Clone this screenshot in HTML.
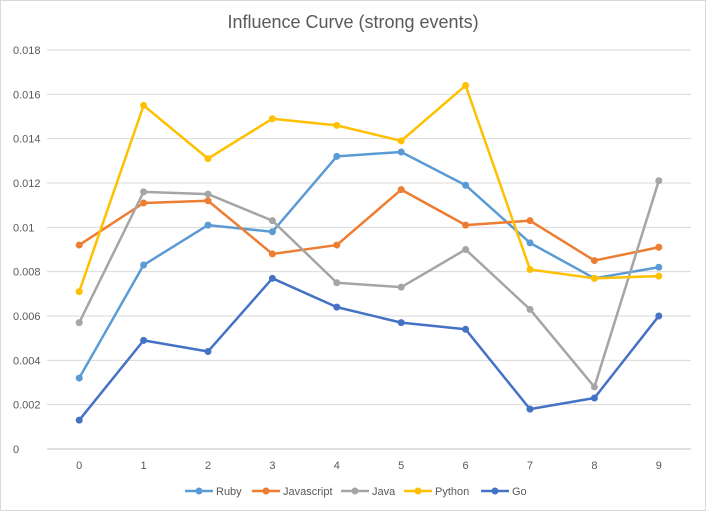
<!DOCTYPE html>
<html><head><meta charset="utf-8"><style>
body{margin:0;background:#fff;font-family:"Liberation Sans",sans-serif}
svg{display:block}
</style></head><body>
<svg id="chart" width="706" height="511">
<rect x="0.5" y="0.5" width="705" height="510" fill="#fff" stroke="#d9d9d9"/>
<text x="353" y="28" text-anchor="middle" font-size="18" fill="#595959">Influence Curve (strong events)</text>
<g id="grid"></g><g id="series"></g><g id="legend"></g>
</svg>
<script>
const categories=["0","1","2","3","4","5","6","7","8","9"];
const yTicks=[0,0.002,0.004,0.006,0.008,0.01,0.012,0.014,0.016,0.018];
const seriesNames=["Ruby","Javascript","Java","Python","Go"];
const ruby=[0.0032,0.0083,0.0101,0.0098,0.0132,0.0134,0.0119,0.0093,0.0077,0.0082];
const javascript=[0.0092,0.0111,0.0112,0.0088,0.0092,0.0117,0.0101,0.0103,0.0085,0.0091];
const java=[0.0057,0.0116,0.0115,0.0103,0.0075,0.0073,0.0090,0.0063,0.0028,0.0121];
const python=[0.0071,0.0155,0.0131,0.0149,0.0146,0.0139,0.0164,0.0081,0.0077,0.0078];
const go=[0.0013,0.0049,0.0044,0.0077,0.0064,0.0057,0.0054,0.0018,0.0023,0.0060];
const colors=["#5b9bd5","#ed7d31","#a5a5a5","#ffc000","#4472c4"];
const allSeries=[ruby,javascript,java,python,go];
const NS="http://www.w3.org/2000/svg";
const x0=47,x1=691,y0=449,yTop=50;
function xPos(i){return x0+(x1-x0)*(i+0.5)/categories.length;}
function yPos(v){return y0-(y0-yTop)*v/0.018;}
function mk(tag,attrs,parent){const e=document.createElementNS(NS,tag);for(const k in attrs)e.setAttribute(k,attrs[k]);parent.appendChild(e);return e;}
const grid=document.getElementById('grid');
yTicks.forEach(t=>{
  const y=yPos(t);
  const l=mk('line',{x1:x0,x2:x1,y1:y,y2:y,stroke:t===0?'#bfbfbf':'#d9d9d9'},grid);
  
  
  const tx=mk('text',{x:13,y:y+4,'font-size':11,fill:'#595959'},grid);
  tx.textContent=t===0?'0':String(+t.toFixed(3));
  
  
});
categories.forEach((c,i)=>{
  const tx=mk('text',{x:xPos(i),y:469,'font-size':11,fill:'#595959','text-anchor':'middle'},grid);
  tx.textContent=c;
  
  
});
const sg=document.getElementById('series');
allSeries.forEach((s,k)=>{
  const g=mk('g',{},sg);
  
  
  const p=mk('polyline',{points:s.map((v,i)=>xPos(i)+','+yPos(v)).join(' '),fill:'none',stroke:colors[k],'stroke-width':2.5,'stroke-linejoin':'round'},g);
  
  
  s.forEach((v,i)=>{
    const c=mk('circle',{cx:xPos(i),cy:yPos(v),r:3.5,fill:colors[k]},g);
    
    
  });
});
const lg=document.getElementById('legend');
const lx=[185,252,341,404,481];
seriesNames.forEach((n,k)=>{
  const g=mk('g',{},lg);
  
  
  mk('line',{x1:lx[k],x2:lx[k]+28,y1:491,y2:491,stroke:colors[k],'stroke-width':2.5},g);
  mk('circle',{cx:lx[k]+14,cy:491,r:3.5,fill:colors[k]},g);
  const t=mk('text',{x:lx[k]+31,y:495,'font-size':11,fill:'#595959'},g);
  t.textContent=n;
});
</script>
</body></html>
